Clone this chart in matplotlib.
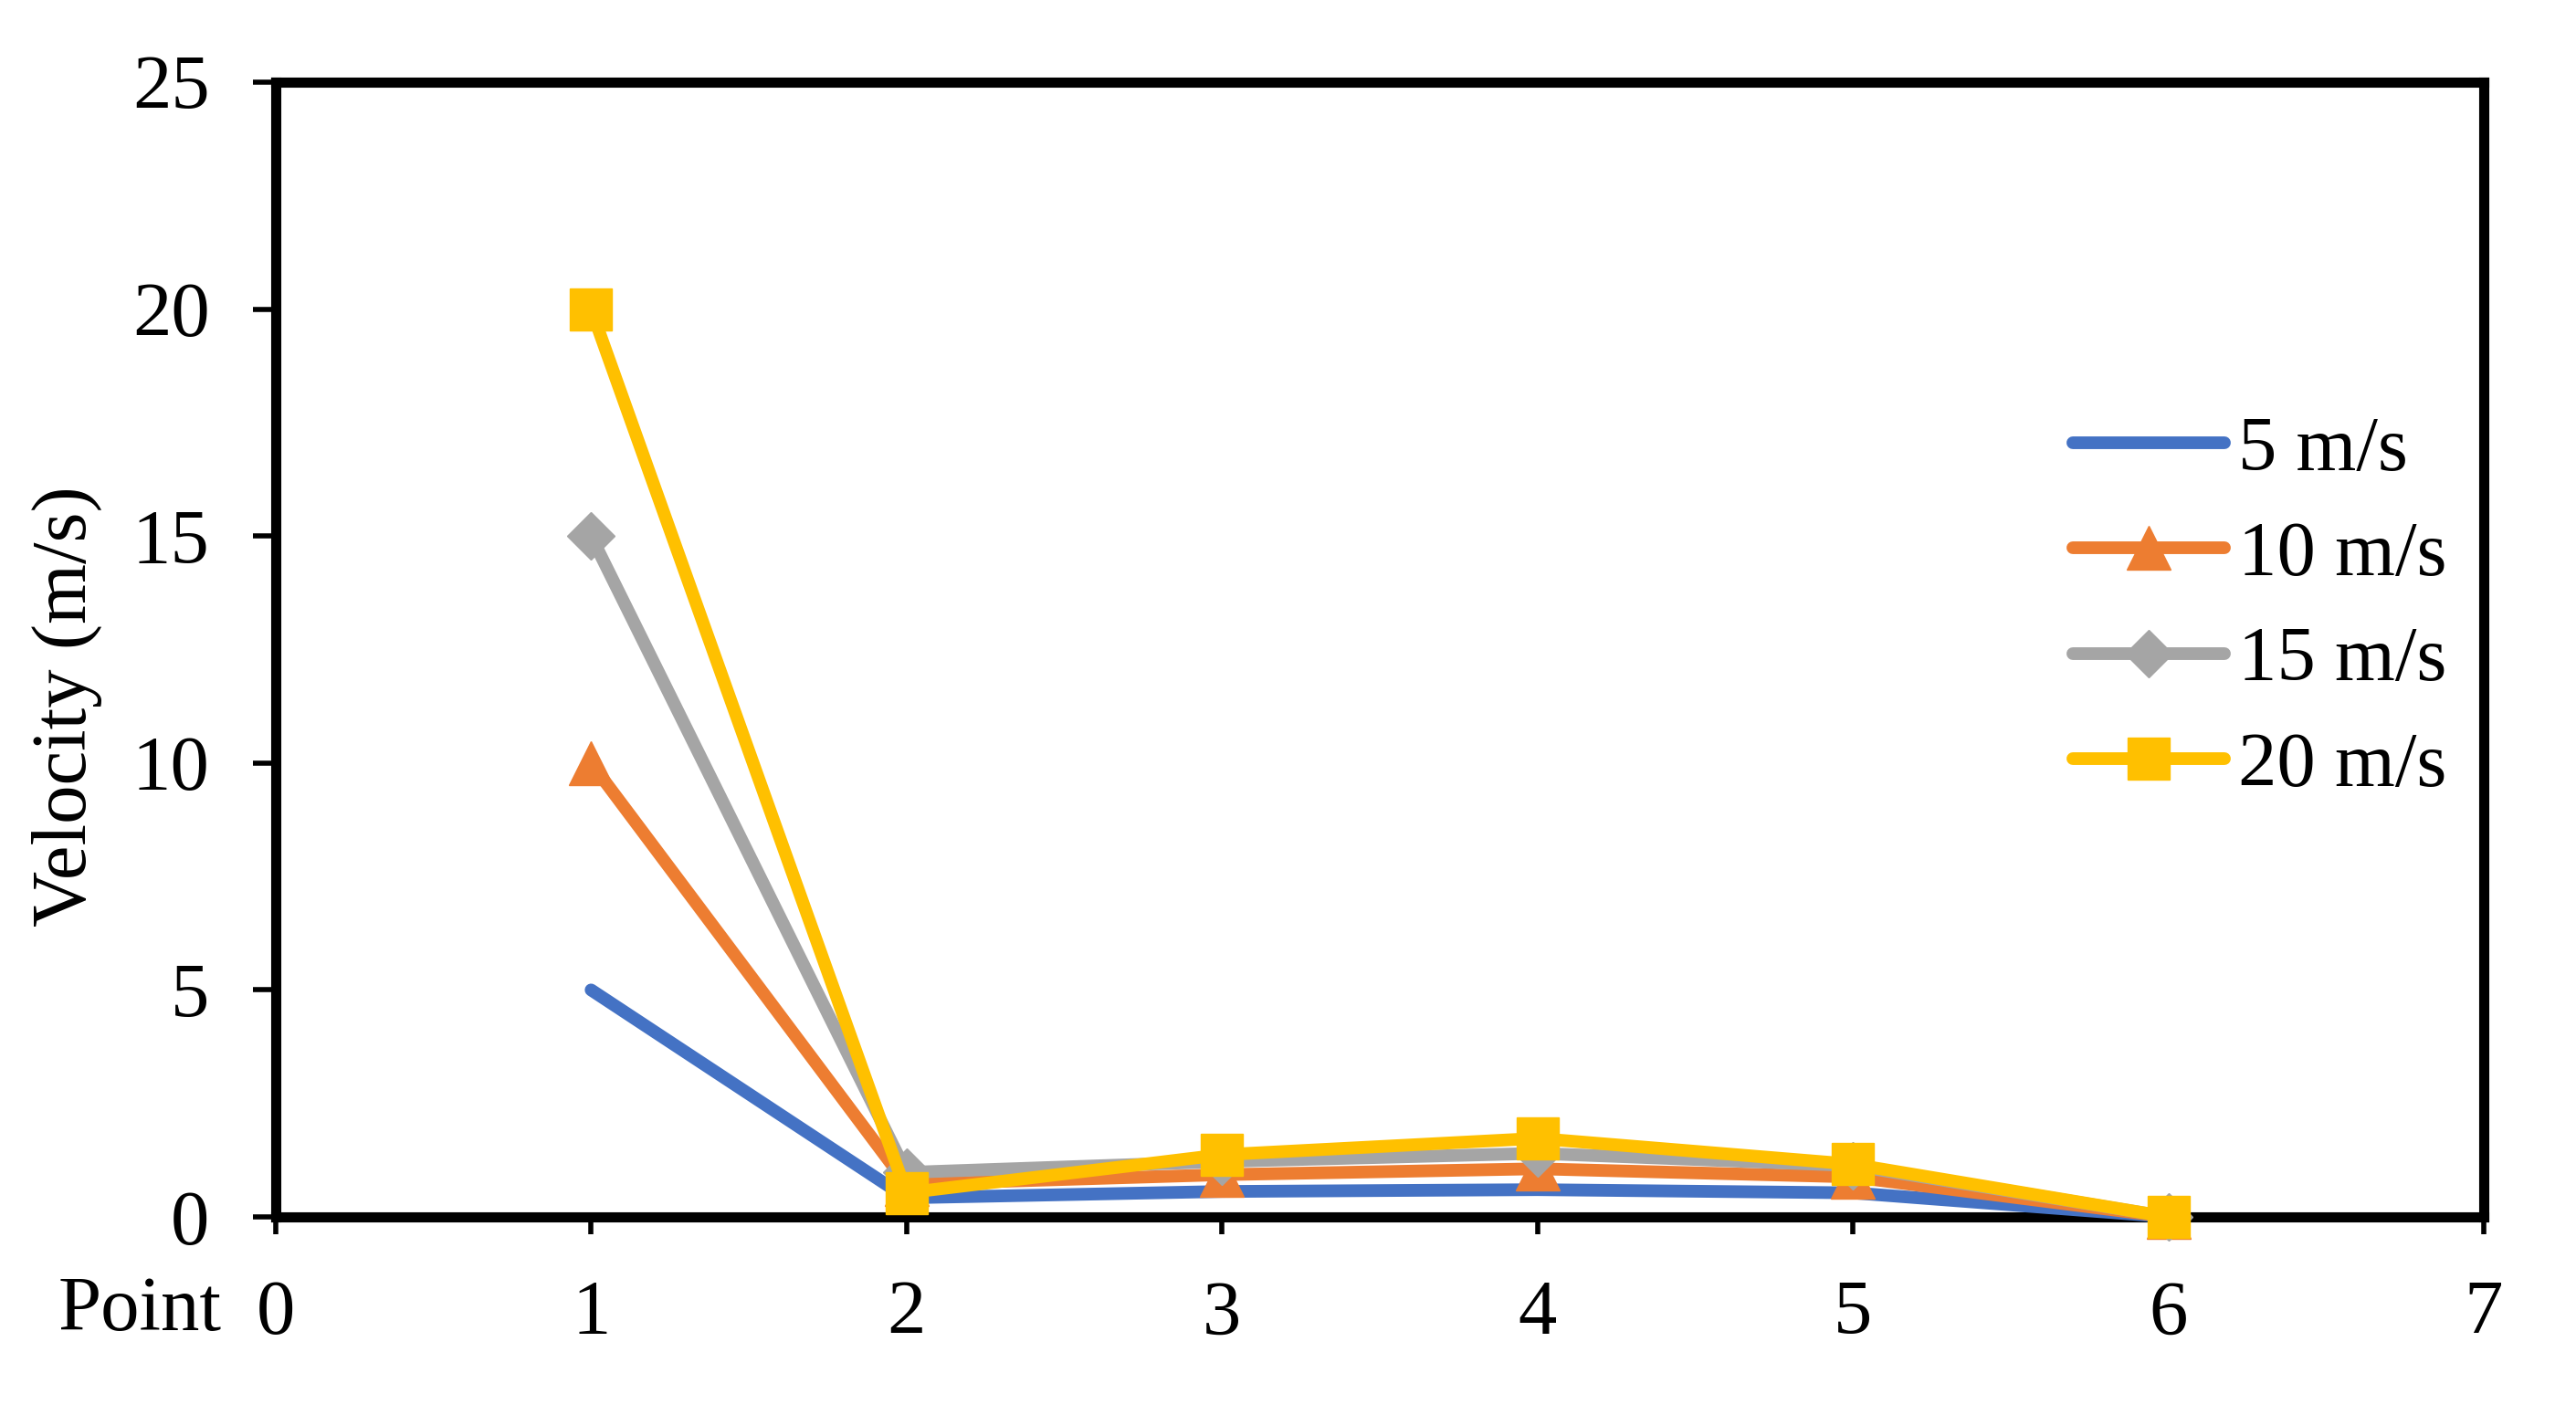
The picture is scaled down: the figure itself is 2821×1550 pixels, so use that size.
import matplotlib
matplotlib.use("Agg")
import matplotlib.pyplot as plt

points = [1, 2, 3, 4, 5, 6]
v5 = [5.0, 0.42, 0.56, 0.60, 0.53, 0.0]
v10 = [10.0, 0.72, 0.93, 1.06, 0.88, 0.0]
v15 = [15.0, 0.98, 1.22, 1.40, 1.13, 0.0]
v20 = [20.0, 0.53, 1.37, 1.73, 1.16, 0.0]
labels = ["5 m/s", "10 m/s", "15 m/s", "20 m/s"]
colors = ["#4472C4", "#ED7D31", "#A5A5A5", "#FFC000"]

plt.rcParams['font.family'] = ['Liberation Serif', 'DejaVu Serif']
fs = 61

fig = plt.figure(figsize=(28.21, 15.5), dpi=100)
ax = fig.add_axes([0.107, 0.14, 0.8572, 0.802])

lw = 10
ax.plot(points, v5, color=colors[0], lw=lw, solid_capstyle='round', label=labels[0], clip_on=False, zorder=3)
ax.plot(points, v10, color=colors[1], lw=lw, marker='^', markersize=34, solid_capstyle='round', label=labels[1], clip_on=False, zorder=4)
ax.plot(points, v15, color=colors[2], lw=lw, marker='D', markersize=26, solid_capstyle='round', label=labels[2], clip_on=False, zorder=5)
ax.plot(points, v20, color=colors[3], lw=lw, marker='s', markersize=33, solid_capstyle='round', label=labels[3], clip_on=False, zorder=6)

ax.set_xlim(0, 7)
ax.set_ylim(0, 25)
ax.set_xticks(range(0, 8))
ax.set_yticks(range(0, 26, 5))
for s in ax.spines.values():
    s.set_linewidth(8)
    s.set_color('black')
    s.set_zorder(2)
ax.tick_params(axis='x', direction='out', length=14, width=4, labelsize=fs, pad=36)
ax.tick_params(axis='y', direction='out', length=18, width=4, labelsize=fs, pad=34)
ax.set_ylabel("Velocity (m/s)", fontsize=fs)
ax.yaxis.set_label_coords(-0.0786, 0.45)

fig.text(243/2821, 1 - 1457/1550, "Point", ha='right', va='baseline', fontsize=fs)

leg = ax.legend(loc='center left', bbox_to_anchor=(2270/2821, 1 - 667/1550),
                bbox_transform=fig.transFigure, frameon=False, fontsize=fs,
                handlelength=1.96, handletextpad=0.18, labelspacing=0.45,
                borderpad=0, borderaxespad=0)

fig.savefig("out.png", dpi=100)
